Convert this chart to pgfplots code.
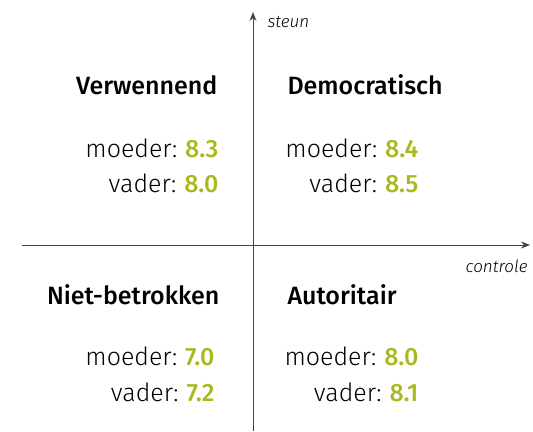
\documentclass[border=0pt]{standalone}
\usepackage{fontspec}
\setmainfont{Fira Sans}[UprightFont={* Light}, BoldFont={* Medium}, ItalicFont={* Light Italic}]
\usepackage{pgfplots}
\pgfplotsset{compat=1.18}
\usetikzlibrary{arrows.meta}
\definecolor{txt}{HTML}{222222}
\definecolor{val}{HTML}{A9B81D}
\definecolor{axl}{HTML}{444444}
\newcommand{\lab}{\fontsize{25}{29}\selectfont}
\newcommand{\ax}{\fontsize{17}{20}\selectfont\itshape}
\newcommand{\score}[1]{\hspace{0.32em}\textcolor{val}{\bfseries #1}}
\begin{document}
\begin{tikzpicture}
\begin{axis}[
  width=508pt, height=419pt, scale only axis,
  xmin=-231, xmax=277, ymin=-186, ymax=233,
  enlargelimits=false,
  axis lines=middle, ticks=none, clip=false,
  axis line style={line width=0.9pt, color=axl},
  x axis line style={-{Stealth[length=9pt,width=7pt]}},
  y axis line style={-{Stealth[length=9pt,width=7pt]}},
  every node/.style={text=txt},
]
\addplot[draw=none] coordinates {(0,0)};
\path (axis cs:-253,-186) rectangle (axis cs:280,245);
\node[anchor=base west] at (axis cs:11,217) {\ax steun};
\node[anchor=base east] at (axis cs:278,-28) {\ax controle};
% quadrant titles
\node[anchor=base east] at (axis cs:-32,150) {\lab\bfseries Verwennend};
\node[anchor=base west] at (axis cs:31,150) {\lab\bfseries Democratisch};
\node[anchor=base east] at (axis cs:-30,-60) {\lab\bfseries Niet-betrokken};
\node[anchor=base west] at (axis cs:31,-60) {\lab\bfseries Autoritair};
% values
\node[anchor=base east] at (axis cs:-31,87) {\lab moeder:\score{8.3}};
\node[anchor=base east] at (axis cs:-31,52) {\lab vader:\score{8.0}};
\node[anchor=base east] at (axis cs:169,87) {\lab moeder:\score{8.4}};
\node[anchor=base east] at (axis cs:169,52) {\lab vader:\score{8.5}};
\node[anchor=base east] at (axis cs:-35,-121) {\lab moeder:\score{7.0}};
\node[anchor=base east] at (axis cs:-35,-156) {\lab vader:\score{7.2}};
\node[anchor=base east] at (axis cs:169,-121) {\lab moeder:\score{8.0}};
\node[anchor=base east] at (axis cs:169,-156) {\lab vader:\score{8.1}};
\end{axis}
\end{tikzpicture}
\end{document}
